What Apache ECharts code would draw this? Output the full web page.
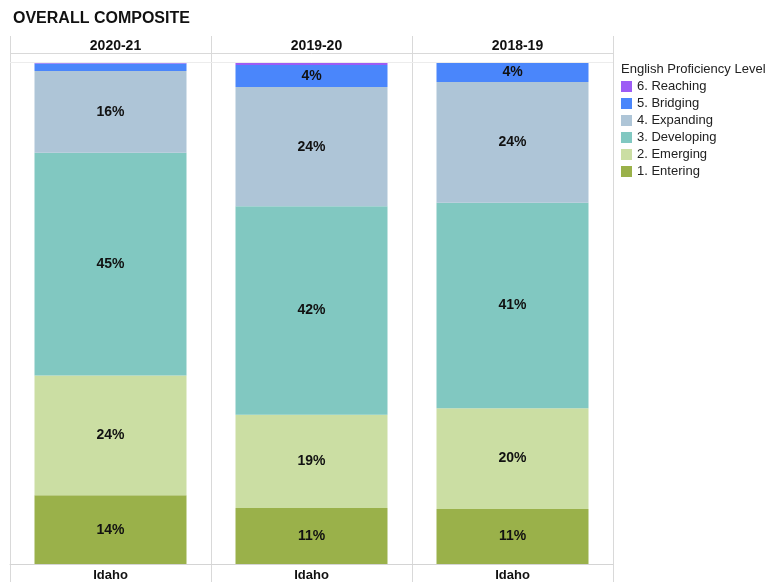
<!DOCTYPE html>
<html>
<head>
<meta charset="utf-8">
<script src="https://cdn.jsdelivr.net/npm/echarts@6/dist/echarts.min.js"></script>
<style>
  html, body { margin: 0; padding: 0; background: #fff; }
  #chart { width: 773px; height: 582px; }
</style>
</head>
<body>
<div id="chart"></div>
<script>
// panels (school years) and the single category inside each
var years = ['2020-21', '2019-20', '2018-19']
var categories = ['Idaho']
var levels = ['1. Entering', '2. Emerging', '3. Developing', '4. Expanding', '5. Bridging', '6. Reaching']
var colors = ['#9ab14a', '#cbdea3', '#81c8c1', '#aec5d7', '#4a86fb', '#9d5cf5']

// percent of students per level, one array per year (Entering .. Reaching)
var pct2021 = [13.7, 23.9, 44.5, 16.3, 1.5, 0.1]
var pct1920 = [11.2, 18.6, 41.6, 23.8, 4.4, 0.4]
var pct1819 = [11.0, 20.1, 41.0, 24.1, 3.8, 0.0]
var yearData = [pct2021, pct1920, pct1819]

var chart = echarts.init(document.getElementById('chart'))
var font = '"Liberation Sans", Arial, sans-serif'

var grids = [], xAxes = [], yAxes = [], series = [], titles = [], lines = []
var panelLeft = 10, panelW = 201

titles.push({
  text: 'OVERALL COMPOSITE',
  left: 8, top: 6,
  textStyle: { fontFamily: font, fontSize: 16, fontWeight: 'bold', color: '#111' }
})

for (var i = 0; i < years.length; i++) {
  var x0 = panelLeft + panelW * i
  grids.push({ left: x0, width: panelW, top: 63, bottom: 16 })
  xAxes.push({
    type: 'category', gridIndex: i, data: categories,
    axisTick: { show: false },
    axisLine: { lineStyle: { color: '#d4d4d4' } },
    axisLabel: { fontFamily: font, fontSize: 13, fontWeight: 'bold', color: '#111', margin: 5 }
  })
  yAxes.push({ type: 'value', gridIndex: i, min: 0, max: 100, show: false })
  titles.push({
    text: years[i],
    left: x0 + panelW / 2, top: 34, textAlign: 'center',
    textStyle: { fontFamily: font, fontSize: 14, fontWeight: 'bold', color: '#111' }
  })
  for (var k = 0; k < levels.length; k++) {
    series.push({
      name: levels[k],
      type: 'bar',
      xAxisIndex: i, yAxisIndex: i,
      stack: 'y' + i,
      barWidth: 152,
      itemStyle: { color: colors[k] },
      label: {
        show: true,
        position: 'inside',
        fontFamily: font, fontSize: 14, fontWeight: 'bold', color: '#111',
        formatter: function (p) { return p.value >= 3 ? Math.round(p.value) + '%' : '' }
      },
      data: [yearData[i][k]]
    })
  }
}

// panel separators
var sep = { stroke: '#d9d9d9', lineWidth: 1 }
for (var j = 0; j <= years.length; j++) {
  var xx = panelLeft + panelW * j + 0.5
  lines.push({ type: 'line', shape: { x1: xx, y1: 36, x2: xx, y2: 582 }, style: sep, silent: true })
}
lines.push({ type: 'line', shape: { x1: 10, y1: 53.5, x2: 613, y2: 53.5 }, style: sep, silent: true })
lines.push({ type: 'line', shape: { x1: 10, y1: 62.5, x2: 613, y2: 62.5 }, style: { stroke: '#ececec', lineWidth: 1 }, silent: true })
lines.push({
  type: 'text', left: 621, top: 63,
  style: { text: 'English Proficiency Level', font: '13px ' + font, fill: '#222' }
})

chart.setOption({
  animation: false,
  title: titles,
  grid: grids,
  xAxis: xAxes,
  yAxis: yAxes,
  legend: {
    orient: 'vertical',
    left: 621, top: 80,
    padding: 0,
    icon: 'rect',
    itemWidth: 11, itemHeight: 11, itemGap: 4,
    data: levels.slice().reverse(),
    textStyle: { fontFamily: font, fontSize: 13, color: '#222' }
  },
  graphic: lines,
  series: series
})
</script>
</body>
</html>
